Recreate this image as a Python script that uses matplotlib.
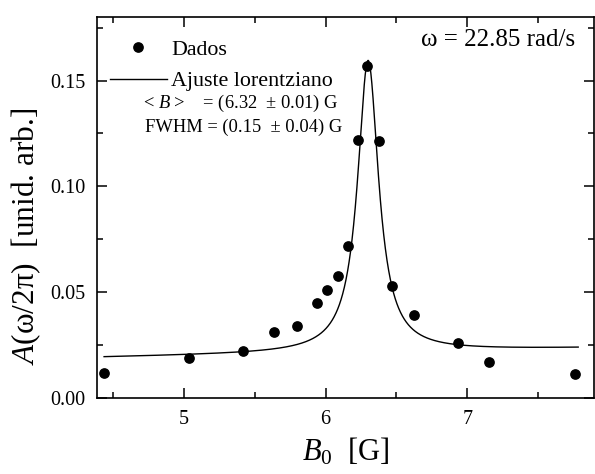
import numpy as np
import matplotlib
matplotlib.use("Agg")
import matplotlib.pyplot as plt
from matplotlib.ticker import MultipleLocator

plt.rcParams['font.family'] = ['Liberation Serif', 'DejaVu Serif']
plt.rcParams['mathtext.fontset'] = 'custom'
plt.rcParams['mathtext.rm'] = 'Liberation Serif'
plt.rcParams['mathtext.it'] = 'Liberation Serif:italic'

# Measured data
b0_data = [4.44, 5.04, 5.42, 5.64, 5.80, 5.94, 6.01, 6.09, 6.16, 6.23, 6.29,
           6.38, 6.47, 6.62, 6.93, 7.15, 7.76]
a_data = [0.0117, 0.0187, 0.022, 0.031, 0.034, 0.045, 0.051, 0.0575, 0.0715,
          0.122, 0.157, 0.1215, 0.053, 0.039, 0.0257, 0.0168, 0.0112]

# Lorentzian fit parameters (as drawn)
fit_center = 6.30
fit_fwhm = 0.18
fit_height = 0.138
fit_offset = 0.0215
fit_slope = 0.0013
fit_range = (4.44, 7.78)

xlim = (4.39, 7.89)
ylim = (0.0, 0.18)

fig = plt.figure(figsize=(5.95, 4.74), dpi=100)
ax = fig.add_axes([0.163, 0.161, 0.835, 0.803])

xf = np.linspace(fit_range[0], fit_range[1], 2000)
yf = fit_offset + fit_slope * (xf - fit_center) + \
    fit_height / (1 + ((xf - fit_center) / (fit_fwhm / 2)) ** 2)

ax.plot(b0_data, a_data, 'o', color='black', markersize=6.7, label='Dados')
ax.plot(xf, yf, '-', color='black', linewidth=1.0, label='Ajuste lorentziano')

ax.set_xlim(*xlim)
ax.set_ylim(*ylim)
ax.xaxis.set_major_locator(MultipleLocator(1))
ax.xaxis.set_minor_locator(MultipleLocator(0.5))
ax.yaxis.set_major_locator(MultipleLocator(0.05))
ax.yaxis.set_minor_locator(MultipleLocator(0.025))
ax.yaxis.set_major_formatter(matplotlib.ticker.FormatStrFormatter('%.2f'))

ax.tick_params(which='both', direction='in', top=True, right=True,
               labelsize=14.5, width=1.1)
ax.tick_params(which='major', length=7)
ax.tick_params(which='minor', length=4)
ax.tick_params(axis='x', which='major', pad=9)
ax.tick_params(axis='y', which='major', pad=8)
for s in ax.spines.values():
    s.set_linewidth(1.2)

ax.set_xlabel('$B_0$  [G]', fontsize=22)
ax.xaxis.set_label_coords(0.5, -0.10)
ax.set_ylabel('$A$(ω/2π)  [unid. arb.]', fontsize=22.5)
ax.yaxis.set_label_coords(-0.109, 0.423)

leg = ax.legend(loc='upper left', bbox_to_anchor=(0.026, 0.942), frameon=False,
                fontsize=15.8, handlelength=2.6, handletextpad=0.2,
                borderpad=0, borderaxespad=0, labelspacing=0.52, numpoints=1)

ax.text(0.093, 0.774, '< $B$ >    = (6.32  ± 0.01) G', transform=ax.transAxes,
        fontsize=13.3, va='center', ha='left')
ax.text(0.097, 0.709, 'FWHM = (0.15  ± 0.04) G', transform=ax.transAxes,
        fontsize=13.3, va='center', ha='left')
ax.text(0.962, 0.94, 'ω = 22.85 rad/s', transform=ax.transAxes,
        fontsize=18, va='center', ha='right')

fig.savefig('out.png', dpi=100)
